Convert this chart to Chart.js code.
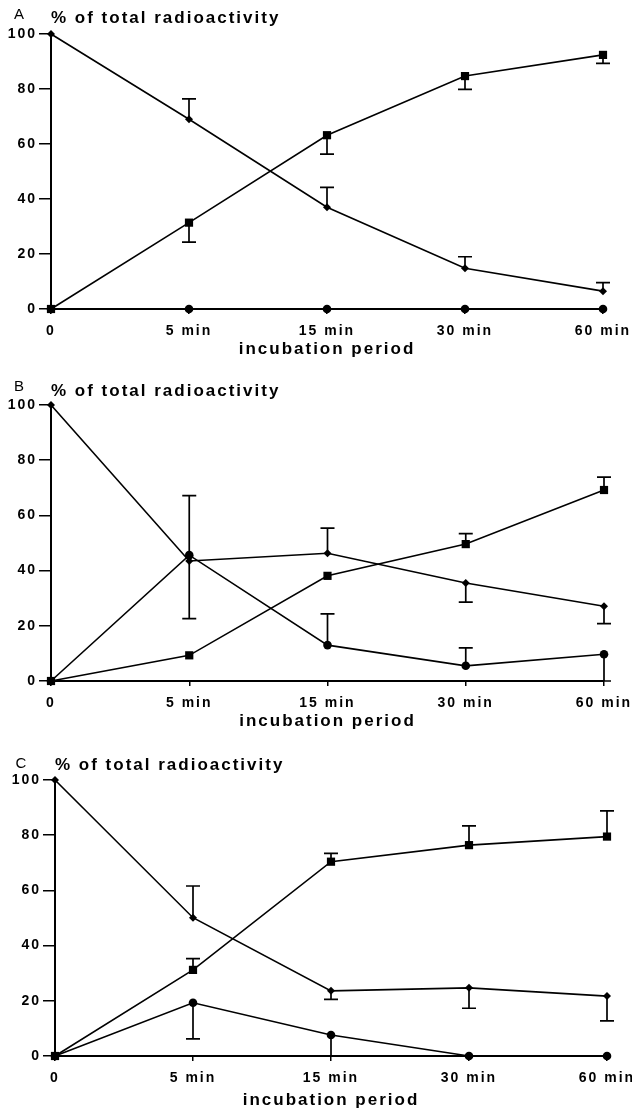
<!DOCTYPE html>
<html>
<head>
<meta charset="utf-8">
<script src="https://cdn.jsdelivr.net/npm/chart.js@4.4.1/dist/chart.umd.min.js"></script>
<style>
body { margin: 0; background: #fff; width: 632px; height: 1111px; position: relative; overflow: hidden; }
.panel { position: absolute; left: 0; width: 632px; }
</style>
</head>
<body>
<div class="panel" style="top:0px;height:371px"><canvas id="grafA"></canvas></div>
<div class="panel" style="top:371px;height:375px"><canvas id="grafB"></canvas></div>
<div class="panel" style="top:746px;height:365px"><canvas id="grafC"></canvas></div>
<script>
// categories and y ticks
const periods = ['0', '5 min', '15 min', '30 min', '60 min'];
const yTicks = [0, 20, 40, 60, 80, 100];

// panel A  (the *_err arrays = value where the error bar ends, null = no bar)
const a_diamond = [100, 69, 37, 14.8, 6.5];
const a_diamond_err = [null, 76.4, 44.2, 19, 9.6];
const a_square = [0, 31.4, 63.2, 84.7, 92.4];
const a_square_err = [null, 24.3, 56.3, 79.9, 89.3];
const a_circle = [0, 0, 0, 0, 0];
const a_circle_err = [null, null, null, null, null];

// panel B
const b_diamond = [100, 43.5, 46.3, 35.5, 27.1];
const b_diamond_err = [null, 22.6, 55.4, 28.6, 20.8];
const b_square = [0, 9.3, 38.1, 49.6, 69.2];
const b_square_err = [null, null, null, 53.4, 73.9];
const b_circle = [0, 45.6, 13.0, 5.5, 9.7];
const b_circle_err = [null, 67.2, 24.3, 12.0, 0];

// panel C
const c_diamond = [100, 50.1, 23.6, 24.7, 21.7];
const c_diamond_err = [null, 61.6, 20.5, 17.3, 12.7];
const c_square = [0, 31.2, 70.4, 76.4, 79.5];
const c_square_err = [null, 35.3, 73.4, 83.4, 88.8];
const c_circle = [0, 19.3, 7.6, 0, 0];
const c_circle_err = [null, 6.2, 0, null, null];

Chart.defaults.font.family = "'Liberation Sans', Arial, Helvetica, sans-serif";
Chart.defaults.color = '#000';

// old print look: wide letter spacing
const spacing = {
  id: 'spacing',
  beforeLayout(chart) { chart.ctx.letterSpacing = '2px'; },
  beforeDraw(chart) { chart.ctx.letterSpacing = '2px'; }
};

// one-sided error bars with a cap
const errorBars = {
  id: 'errorBars',
  afterDatasetsDraw(chart) {
    const ctx = chart.ctx, x = chart.scales.x, y = chart.scales.y;
    ctx.save();
    ctx.strokeStyle = '#000';
    ctx.lineWidth = 1.7;
    chart.data.datasets.forEach(ds => {
      (ds.errEnd || []).forEach((e, i) => {
        if (e === null) return;
        const px = x.getPixelForValue(i);
        const p0 = y.getPixelForValue(ds.data[i]);
        const p1 = y.getPixelForValue(e);
        ctx.beginPath();
        ctx.moveTo(px, p0); ctx.lineTo(px, p1);
        ctx.moveTo(px - 7, p1); ctx.lineTo(px + 7, p1);
        ctx.stroke();
      });
    });
    ctx.restore();
  }
};

// panel letter A / B / C
const letter = {
  id: 'letter',
  afterDraw(chart, args, opts) {
    const ctx = chart.ctx;
    ctx.save();
    ctx.font = "15px 'Liberation Sans', Arial, sans-serif";
    ctx.fillStyle = '#000';
    ctx.textAlign = 'center';
    ctx.textBaseline = 'middle';
    ctx.fillText(opts.text, opts.x, opts.y);
    ctx.restore();
  }
};

function makePanel(id, p, diamond, diamondErr, square, squareErr, circle, circleErr) {
  const ctx = document.getElementById(id).getContext('2d');
  return new Chart(ctx, {
    type: 'line',
    data: {
      labels: periods,
      datasets: [{
        data: circle, errEnd: circleErr,
        borderColor: '#000', backgroundColor: '#000',
        pointStyle: 'circle', pointRadius: 4.3
      }, {
        data: square, errEnd: squareErr,
        borderColor: '#000', backgroundColor: '#000',
        pointStyle: 'rect', pointRadius: 5.8
      }, {
        data: diamond, errEnd: diamondErr,
        borderColor: '#000', backgroundColor: '#000',
        pointStyle: 'rectRot', pointRadius: 4
      }]
    },
    options: {
      responsive: true,
      maintainAspectRatio: false,
      animation: false,
      datasets: {
        line: {
          borderWidth: 1.6,
          pointBackgroundColor: '#000', pointBorderColor: '#000',
          pointBorderWidth: 0, tension: 0, clip: false
        }
      },
      layout: { padding: { left: 0, right: p.right, top: 0, bottom: 0 } },
      plugins: {
        colors: { enabled: false },
        legend: { display: false },
        tooltip: { enabled: false },
        title: {
          display: true, text: '% of total radioactivity', align: 'start', fullSize: false,
          color: '#000', font: { size: 17, weight: 'bold' },
          padding: { top: p.titleTop, bottom: 34 - p.titleTop - 20.4 }
        },
        letter: { text: p.letter, x: p.lx, y: p.ly }
      },
      scales: {
        x: {
          type: 'category', offset: false,
          grid: { drawOnChartArea: false, tickLength: 5, color: '#000', lineWidth: 1.5 },
          border: { color: '#000', width: 2 },
          ticks: { color: '#000', font: { size: 14, weight: 'bold' }, padding: 9, maxRotation: 0, autoSkip: false },
          title: { display: true, text: 'incubation period', color: '#000', font: { size: 17, weight: 'bold' }, padding: { top: 0, bottom: p.xtBottom } },
          afterFit(s) { s.height = p.h - p.axis; s.paddingLeft = 0; s.paddingRight = 0; }
        },
        y: {
          min: 0, max: 100,
          afterBuildTicks(s) { s.ticks = yTicks.map(v => ({ value: v })); },
          grid: { drawOnChartArea: false, tickLength: 12, color: '#000', lineWidth: 1.5 },
          border: { color: '#000', width: 2 },
          ticks: { color: '#000', font: { size: 14, weight: 'bold' }, padding: 2 },
          afterFit(s) { s.width = p.left; }
        }
      }
    },
    plugins: [spacing, errorBars, letter]
  });
}

const grafA = makePanel('grafA', { h: 371, axis: 309, left: 51, right: 29, titleTop: 8, xtBottom: 11, letter: 'A', lx: 20, ly: 15 },
  a_diamond, a_diamond_err, a_square, a_square_err, a_circle, a_circle_err);
const grafB = makePanel('grafB', { h: 375, axis: 310, left: 51, right: 28, titleTop: 10, xtBottom: 14, letter: 'B', lx: 20, ly: 16 },
  b_diamond, b_diamond_err, b_square, b_square_err, b_circle, b_circle_err);
const grafC = makePanel('grafC', { h: 365, axis: 310, left: 55, right: 25, titleTop: 9, xtBottom: 0, letter: 'C', lx: 22, ly: 18 },
  c_diamond, c_diamond_err, c_square, c_square_err, c_circle, c_circle_err);
</script>
</body>
</html>
